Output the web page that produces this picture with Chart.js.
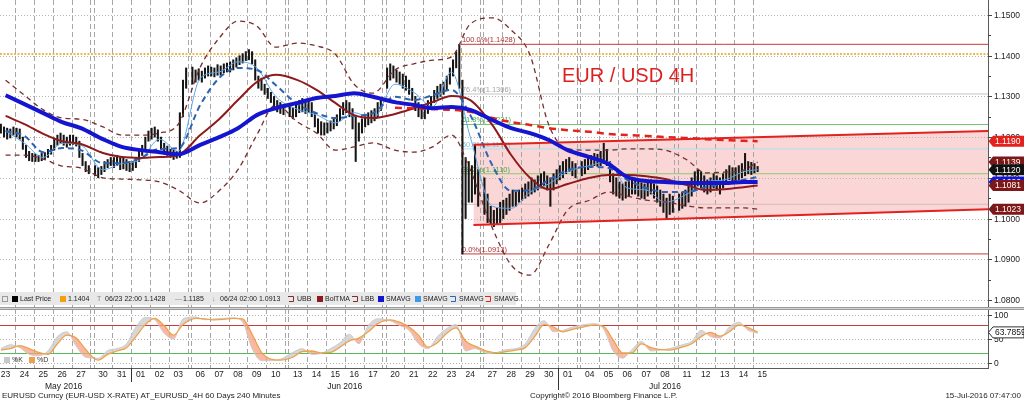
<!DOCTYPE html>
<html>
<head>
<meta charset="utf-8">
<title>EUR / USD 4H</title>
<script src="https://cdn.jsdelivr.net/npm/chart.js@4.4.1/dist/chart.umd.min.js"></script>
<style>
  html, body { margin: 0; padding: 0; background: #fff; }
  #wrap { position: relative; width: 1024px; height: 401px; overflow: hidden; }
  #wrap canvas { position: absolute; left: 0; }
  #priceChart { top: 0; }
  #stochChart { top: 307px; }
</style>
</head>
<body>
<div id="wrap">
  <canvas id="priceChart" width="1024" height="307"></canvas>
  <canvas id="stochChart" width="1024" height="94"></canvas>
</div>
<script>
const FONT = '"Liberation Sans", Arial, sans-serif';

// Trading days on the axis: 6 four-hour bars a day, plus one Sunday bar per weekend
const dayLabels = ['23','24','25','26','27','30','31','01','02','03','06','07','08','09','10','13','14','15','16','17',
                   '20','21','22','23','24','27','28','29','30','01','04','05','06','07','08','11','12','13','14','15'];
const monthLabels = ['May 2016', 'Jun 2016', 'Jul 2016'];
const monthFirstDay = [0, 7, 29];
const viewRange = [1.22, 315.87];          // visible span, in bar slots

// 4H bars, one row per day
const barHigh = [
  [1.1228,1.1232,1.1225,1.1222,1.1220,1.1225], [1.1222,1.1220,1.1200,1.1180,1.1165,1.1160],
  [1.1158,1.1155,1.1160,1.1162,1.1170,1.1180], [1.1195,1.1205,1.1210,1.1205,1.1200,1.1205],
  [1.1205,1.1200,1.1190,1.1160,1.1140,1.1130], [1.1130,1.1125,1.1128,1.1140,1.1145,1.1150],
  [1.1150,1.1155,1.1150,1.1148,1.1145,1.1140], [1.1140,1.1150,1.1165,1.1180,1.1200,1.1215],
  [1.1222,1.1225,1.1218,1.1200,1.1185,1.1178], [1.1170,1.1168,1.1165,1.1260,1.1340,1.1370],
  [1.1372,1.1365,1.1368,1.1362,1.1370,1.1375], [1.1372,1.1370,1.1378,1.1375,1.1380,1.1382],
  [1.1385,1.1390,1.1395,1.1400,1.1405,1.1410], [1.1415,1.1410,1.1390,1.1350,1.1345,1.1330],
  [1.1320,1.1310,1.1300,1.1290,1.1285,1.1280], [1.1278,1.1272,1.1280,1.1290,1.1295,1.1290],
  [1.1292,1.1285,1.1260,1.1245,1.1238,1.1235], [1.1235,1.1240,1.1245,1.1255,1.1270,1.1285],
  [1.1290,1.1285,1.1270,1.1250,1.1235,1.1245], [1.1255,1.1260,1.1265,1.1270,1.1285,1.1295],
  [1.1370,1.1380,1.1375,1.1365,1.1360,1.1355], [1.1350,1.1340,1.1320,1.1300,1.1285,1.1280],
  [1.1275,1.1290,1.1300,1.1315,1.1325,1.1330], [1.1335,1.1350,1.1370,1.1390,1.1410,1.1428],
  [1.1340,1.1150,1.1140,1.1130,1.1181,1.1120], [1.1100,1.1060,1.1030,1.1020,1.1025,1.1040],
  [1.1045,1.1050,1.1060,1.1070,1.1065,1.1070], [1.1075,1.1085,1.1090,1.1100,1.1095,1.1105],
  [1.1110,1.1115,1.1105,1.1100,1.1110,1.1120], [1.1130,1.1140,1.1145,1.1150,1.1140,1.1135],
  [1.1140,1.1145,1.1150,1.1155,1.1160,1.1158], [1.1165,1.1185,1.1170,1.1140,1.1110,1.1100],
  [1.1090,1.1085,1.1090,1.1095,1.1100,1.1095], [1.1092,1.1088,1.1085,1.1090,1.1095,1.1085],
  [1.1080,1.1070,1.1060,1.1050,1.1060,1.1055], [1.1060,1.1065,1.1070,1.1085,1.1100,1.1115],
  [1.1120,1.1115,1.1105,1.1095,1.1100,1.1110], [1.1105,1.1100,1.1110,1.1120,1.1130,1.1125],
  [1.1125,1.1130,1.1135,1.1160,1.1140,1.1138], [1.1135,1.1128]
];
const barLow = [
  [1.1205,1.1210,1.1200,1.1195,1.1198,1.1205], [1.1200,1.1195,1.1170,1.1150,1.1142,1.1140],
  [1.1140,1.1140,1.1142,1.1145,1.1150,1.1158], [1.1168,1.1180,1.1185,1.1180,1.1175,1.1180],
  [1.1182,1.1178,1.1150,1.1130,1.1115,1.1110], [1.1105,1.1100,1.1108,1.1115,1.1125,1.1130],
  [1.1125,1.1130,1.1120,1.1122,1.1118,1.1115], [1.1118,1.1125,1.1140,1.1155,1.1170,1.1190],
  [1.1195,1.1200,1.1190,1.1170,1.1158,1.1155], [1.1150,1.1145,1.1148,1.1150,1.1250,1.1320],
  [1.1330,1.1335,1.1340,1.1335,1.1345,1.1350], [1.1350,1.1348,1.1352,1.1352,1.1358,1.1360],
  [1.1360,1.1365,1.1372,1.1378,1.1382,1.1388], [1.1390,1.1380,1.1340,1.1320,1.1315,1.1305],
  [1.1295,1.1285,1.1275,1.1262,1.1258,1.1255], [1.1250,1.1245,1.1250,1.1260,1.1262,1.1258],
  [1.1260,1.1250,1.1225,1.1210,1.1205,1.1205], [1.1210,1.1215,1.1220,1.1228,1.1240,1.1255],
  [1.1260,1.1250,1.1220,1.1140,1.1190,1.1210], [1.1225,1.1230,1.1235,1.1240,1.1250,1.1265],
  [1.1320,1.1340,1.1345,1.1335,1.1330,1.1320], [1.1315,1.1305,1.1290,1.1265,1.1250,1.1245],
  [1.1245,1.1258,1.1270,1.1285,1.1295,1.1300], [1.1305,1.1315,1.1330,1.1350,1.1370,1.1320],
  [1.0913,1.1000,1.1040,1.1040,1.1060,1.1030], [1.1010,1.0990,1.0985,1.0980,1.0985,1.0990],
  [1.1000,1.1010,1.1020,1.1030,1.1030,1.1040], [1.1045,1.1050,1.1055,1.1060,1.1065,1.1070],
  [1.1075,1.1080,1.1070,1.1030,1.1070,1.1085], [1.1095,1.1100,1.1110,1.1115,1.1105,1.1100],
  [1.1105,1.1110,1.1120,1.1125,1.1130,1.1128], [1.1130,1.1135,1.1130,1.1090,1.1060,1.1055],
  [1.1050,1.1045,1.1050,1.1055,1.1060,1.1060], [1.1055,1.1050,1.1048,1.1055,1.1060,1.1050],
  [1.1040,1.1030,1.1015,1.1000,1.1010,1.1015], [1.1020,1.1025,1.1030,1.1040,1.1055,1.1070],
  [1.1080,1.1075,1.1065,1.1060,1.1065,1.1075], [1.1070,1.1060,1.1075,1.1085,1.1095,1.1090],
  [1.1090,1.1095,1.1100,1.1105,1.1110,1.1108], [1.1112,1.1115]
];
const lastPrice = 1.1120;

// studies, one value per day
const smaBlue = [1.1303,1.1281,1.1259,1.1237,1.1222,1.1195,1.1176,1.1168,1.1163,1.1158,
                 1.1181,1.1200,1.1222,1.1254,1.1271,1.1284,1.1296,1.1301,1.1308,1.1299,
                 1.1286,1.1279,1.1271,1.1274,1.1267,1.1242,1.1222,1.1210,1.1193,1.1168,
                 1.1151,1.1134,1.1102,1.1092,1.1090,1.1087,1.1087,1.1087,1.1090,1.1090];
const bollMid = [1.1252,1.1232,1.1208,1.1190,1.1183,1.1161,1.1151,1.1149,1.1151,1.1156,
                 1.1205,1.1244,1.1291,1.1335,1.1353,1.1340,1.1316,1.1284,1.1254,1.1247,
                 1.1257,1.1271,1.1286,1.1301,1.1291,1.1230,1.1156,1.1100,1.1072,1.1085,
                 1.1100,1.1107,1.1107,1.1104,1.1097,1.1082,1.1070,1.1072,1.1077,1.1081];
const bollUp = [1.1340,1.1303,1.1267,1.1247,1.1244,1.1225,1.1205,1.1205,1.1210,1.1232,
                1.1372,1.1443,1.1485,1.1473,1.1421,1.1431,1.1424,1.1404,1.1330,1.1308,
                1.1365,1.1380,1.1389,1.1397,1.1478,1.1493,1.1463,1.1402,1.1230,1.1171,
                1.1168,1.1168,1.1171,1.1171,1.1168,1.1144,1.1112,1.1114,1.1119,1.1139];
const bollLow = [1.1156,1.1156,1.1146,1.1129,1.1124,1.1100,1.1097,1.1095,1.1090,1.1070,
                 1.1038,1.1068,1.1120,1.1205,1.1279,1.1237,1.1210,1.1168,1.1176,1.1186,
                 1.1168,1.1163,1.1176,1.1205,1.1119,1.0977,1.0886,1.0861,1.0935,1.1021,
                 1.1045,1.1065,1.1055,1.1045,1.1041,1.1031,1.1026,1.1026,1.1026,1.1023];
const smaBlueDash = [1.1215,1.1203,1.1163,1.1173,1.1168,1.1136,1.1136,1.1149,1.1171,1.1173,
                     1.1279,1.1345,1.1370,1.1365,1.1328,1.1281,1.1259,1.1247,1.1252,1.1259,
                     1.1299,1.1291,1.1303,1.1316,1.1254,1.1131,1.1068,1.1070,1.1095,1.1119,
                     1.1127,1.1124,1.1095,1.1075,1.1065,1.1065,1.1077,1.1087,1.1095,1.1102];
const smaLight = [1.1215,1.1185,1.1150,1.1185,1.1180,1.1120,1.1135,1.1145,1.1195,1.1165,
                  1.1345,1.1360,1.1385,1.1370,1.1300,1.1268,1.1255,1.1235,1.1260,1.1245,
                  1.1330,1.1310,1.1275,1.1360,1.1200,1.1030,1.1025,1.1065,1.1085,1.1115,
                  1.1130,1.1140,1.1075,1.1070,1.1040,1.1060,1.1090,1.1095,1.1115,1.1120];
const redDashFirstDay = 20;
const smaRedDash = [1.1272,1.1271,1.1269,1.1267,1.1262,1.1247,1.1237,1.1230,1.1222,1.1217,
                    1.1213,1.1208,1.1205,1.1203,1.1200,1.1198,1.1195,1.1193,1.1191,1.1190];

// drawn objects
const fibStartDay = 24;
const fibLevels = [1.1428, 1.1306, 1.1231, 1.1171, 1.1110, 1.1035, 1.0913];
const fibLabels = ['100.0%(1.1428)', '76.4%(1.1306)', '61.8%(1.1231)', '50.0%(1.1171)', '38.2%(1.1110)', '', '0.0%(1.0913)'];
const channelStartBar = 4;
const channelUpper = [1.1181, 1.1215];
const channelLower = [1.0984, 1.1023];
const hiLine = 1.1404;
const priceTicks = [1.08, 1.09, 1.10, 1.11, 1.12, 1.13, 1.14, 1.15];
const priceRange = [1.07826, 1.15369];

// stochastics, two readings per day
const stochD = [27,30,36,30,22,18,40,58,52,28,6,18,25,32,55,80,93,78,58,80,93,92,90,91,93,92,60,22,8,6,
                12,24,25,21,22,33,46,52,65,82,90,85,75,58,33,42,62,73,46,35,24,21,24,27,32,55,80,75,65,70,
                76,79,76,48,21,21,40,32,28,27,33,40,55,64,56,65,79,74,63.8];
const stochK = [30,38,32,18,15,25,55,65,35,12,10,26,30,40,75,95,90,62,50,92,96,90,92,93,94,85,30,5,5,8,
                22,30,18,20,30,42,60,40,78,92,88,78,68,40,30,55,72,80,25,30,20,22,28,30,40,72,88,65,68,75,
                80,82,70,25,10,28,45,25,27,30,38,45,68,55,52,75,85,68,62];
const stochLastValue = 63.7859;
const stochTicks = [0, 50, 100];
const stochLevels = [80, 20];
const stochRange = [-10.4, 112.5];

const legendEntries = [
  ['box', '#000000', 'Last Price'], ['box', '#f0a010', '1.1404'], ['T', '#8a8a8a', '06/23 22:00 1.1428'],
  ['\u2014', '#8a8a8a', '1.1185'], ['\u2193', '#8a8a8a', '06/24 02:00 1.0913'], ['icon', '#7a2d2d', 'UBB'],
  ['box', '#8e1b1b', 'BolTMA'], ['icon', '#7a2d2d', 'LBB'], ['box', '#1515d0', 'SMAVG'],
  ['box', '#3c9be8', 'SMAVG'], ['icon', '#2c63b5', 'SMAVG'], ['icon', '#e3211d', 'SMAVG']
];
const legendX = [12, 60, 97, 175, 212, 288, 317, 352, 378, 415, 450, 485];

// ---- helpers ----
const dayStart = k => k * 6 + Math.floor(k / 5);
const dayMid = k => k < dayLabels.length - 1 ? dayStart(k) + 3 : dayStart(k) + 1.5;
const daily = (vals, first = 0) => vals.map((v, i) => ({ x: dayMid(first + i), y: v }));
const stochX = i => dayStart(Math.floor(i / 2)) + (i % 2 ? 4.5 : 1.5);
const snap = v => Math.round(v) + 0.5;

function dayLineSlots() {
  const s = [];
  for (let k = 1; k < dayLabels.length; k++) {
    s.push(dayStart(k));
    if (k % 5 === 0) s.push(dayStart(k) - 1);   // Friday close before the weekend bar
  }
  return s;
}

function hline(ctx, x0, x1, y) { ctx.beginPath(); ctx.moveTo(x0, y); ctx.lineTo(x1, y); ctx.stroke(); }
function vline(ctx, x, y0, y1) { ctx.beginPath(); ctx.moveTo(x, y0); ctx.lineTo(x, y1); ctx.stroke(); }

function valueTag(ctx, x0, yc, text, bg, fg, stroke) {
  const h = 11;
  ctx.beginPath();
  ctx.moveTo(x0 + 0.5, yc);
  ctx.lineTo(x0 + 5, yc - h / 2);
  ctx.lineTo(1024, yc - h / 2);
  ctx.lineTo(1024, yc + h / 2);
  ctx.lineTo(x0 + 5, yc + h / 2);
  ctx.closePath();
  ctx.fillStyle = bg;
  ctx.fill();
  if (stroke) { ctx.strokeStyle = stroke; ctx.lineWidth = 1; ctx.stroke(); }
  ctx.fillStyle = fg;
  ctx.textAlign = 'left';
  ctx.textBaseline = 'middle';
  ctx.fillText(text, x0 + 7, yc + 0.5);
}

const lineSet = (data, color, width, dash, order) => ({
  type: 'line', data, borderColor: color, borderWidth: width, borderDash: dash,
  pointRadius: 0, fill: false, cubicInterpolationMode: 'monotone', order
});

// ---- price panel ----
const priceBars = [];
barHigh.forEach((row, k) => row.forEach((hi, j) => {
  priceBars.push({ x: dayStart(k) + j + 0.5, y: [barLow[k][j], hi] });
}));

const fibStart = dayStart(fibStartDay);
const channelStart = fibStart + channelStartBar;
const fibLineColors = ['#c83a3a', '#c4c4c4', '#72c672', '#b0e0ec', '#8acb6a', '#d4bcbc', '#c83a3a'];
const fibTextColors = ['#a83232', '#a6a6a6', '#4aa84a', '#7ec3dc', '#4aa84a', null, '#a83232'];

const priceTags = [
  { value: smaBlue[smaBlue.length - 1], bg: '#1515d0' },
  { value: bollUp[bollUp.length - 1], bg: '#7d1818' },
  { value: bollMid[bollMid.length - 1], bg: '#7d1818' },
  { value: lastPrice, bg: '#111111' },
  { value: smaRedDash[smaRedDash.length - 1], bg: '#e3211d' },
  { value: bollLow[bollLow.length - 1], bg: '#7d1818' }
];

const priceGrid = {
  id: 'priceGrid',
  beforeDatasetsDraw(chart) {
    const { ctx, chartArea: a, scales: { x, y } } = chart;
    ctx.save();
    ctx.lineWidth = 1;
    ctx.strokeStyle = '#b4b4b4';
    ctx.setLineDash([1, 2]);
    priceTicks.forEach(v => hline(ctx, a.left, a.right, snap(y.getPixelForValue(v))));
    ctx.setLineDash([5, 3]);
    ctx.strokeStyle = '#a6a6a6';
    dayLineSlots().forEach(s => vline(ctx, snap(x.getPixelForValue(s)), a.top, a.bottom));
    ctx.setLineDash([]);
    // fibonacci labels
    ctx.font = '7.5px ' + FONT;
    ctx.textAlign = 'left';
    ctx.textBaseline = 'bottom';
    fibLevels.forEach((lv, i) => {
      if (!fibLabels[i]) return;
      ctx.fillStyle = fibTextColors[i];
      ctx.fillText(fibLabels[i], x.getPixelForValue(fibStart) + 1, y.getPixelForValue(lv) - 0.5);
    });
    ctx.restore();
  }
};

const priceOverlay = {
  id: 'priceOverlay',
  afterDraw(chart) {
    const { ctx, chartArea: a, scales: { y } } = chart;
    ctx.save();
    // title
    ctx.font = '20px ' + FONT;
    ctx.fillStyle = '#dc1f1f';
    ctx.textAlign = 'left';
    ctx.textBaseline = 'alphabetic';
    ctx.fillText('EUR / USD 4H', 562, 82);

    // legend strip
    ctx.fillStyle = '#e8e8e8';
    ctx.fillRect(0, 292, 516, 13);
    ctx.strokeStyle = '#9a9a9a';
    ctx.lineWidth = 1;
    ctx.strokeRect(2.5, 296.5, 5, 5);
    ctx.font = '7px ' + FONT;
    ctx.textBaseline = 'middle';
    legendEntries.forEach(([kind, color, text], i) => {
      const lx = legendX[i];
      if (kind === 'box') {
        ctx.fillStyle = color;
        ctx.fillRect(lx, 296, 6, 6);
      } else if (kind === 'icon') {
        ctx.strokeStyle = color;
        ctx.beginPath();
        ctx.moveTo(lx, 296.5); ctx.lineTo(lx + 5.5, 296.5); ctx.lineTo(lx + 5.5, 301.5); ctx.lineTo(lx + 1, 301.5);
        ctx.stroke();
      } else {
        ctx.fillStyle = color;
        ctx.fillText(kind, lx, 299);
      }
      ctx.fillStyle = '#222';
      ctx.fillText(text, lx + (kind === 'icon' ? 9 : 8), 299);
    });

    // right axis
    ctx.strokeStyle = '#444';
    ctx.font = '8.5px ' + FONT;
    ctx.fillStyle = '#222';
    priceTicks.forEach((v, i) => {
      const py = snap(y.getPixelForValue(v));
      hline(ctx, a.right, a.right + 4, py);
      ctx.fillText(v.toFixed(4), a.right + 6, py);
      if (i < priceTicks.length - 1) {
        hline(ctx, a.right, a.right + 3, snap(y.getPixelForValue((v + priceTicks[i + 1]) / 2)));
      }
    });
    priceTags.forEach(t => valueTag(ctx, a.right, y.getPixelForValue(t.value), t.value.toFixed(4), t.bg, '#ffffff'));
    ctx.restore();
  }
};

new Chart(document.getElementById('priceChart'), {
  type: 'line',
  data: {
    datasets: [
      lineSet(daily(smaBlue), '#1515d0', 4, [], 0),
      { ...lineSet([{ x: channelStart, y: channelUpper[0] }, { x: viewRange[1], y: channelUpper[1] }], '#e3211d', 2, [], 1) },
      { ...lineSet([{ x: channelStart, y: channelLower[0] }, { x: viewRange[1], y: channelLower[1] }], '#e3211d', 2, [], 1),
        fill: '-1', backgroundColor: '#fbd6d6' },
      lineSet(daily(smaRedDash, redDashFirstDay), '#e3211d', 2.5, [7, 5], 2),
      lineSet(daily(bollMid), '#8e1b1b', 2, [], 3),
      lineSet(daily(bollUp), '#7a2d2d', 1.3, [5, 4], 4),
      lineSet(daily(bollLow), '#7a2d2d', 1.3, [5, 4], 4),
      lineSet(daily(smaBlueDash), '#2c63b5', 2, [6, 4], 5),
      lineSet(daily(smaLight), '#5aa8e8', 1, [], 6),
      { type: 'bar', data: priceBars, backgroundColor: '#151515', barThickness: 1.4, order: 7 },
      ...fibLevels.map((lv, i) => lineSet([{ x: fibStart, y: lv }, { x: viewRange[1], y: lv }], fibLineColors[i], 1, [], 8)),
      lineSet([{ x: viewRange[0], y: hiLine }, { x: viewRange[1], y: hiLine }], '#e8a317', 1.5, [2, 1.5], 9)
    ]
  },
  options: {
    responsive: false,
    animation: false,
    devicePixelRatio: 1,
    events: [],
    layout: { padding: 0 },
    plugins: {
      legend: { display: false },
      tooltip: { enabled: false },
      filler: { drawTime: 'beforeDatasetsDraw' }
    },
    scales: {
      x: { type: 'linear', display: false, offset: false, grid: { offset: false }, min: viewRange[0], max: viewRange[1] },
      y: {
        type: 'linear', position: 'right', min: priceRange[0], max: priceRange[1],
        ticks: { display: false }, grid: { display: false }, border: { color: '#5a5a5a' },
        afterFit: s => { s.width = 36; }
      }
    }
  },
  plugins: [priceGrid, priceOverlay]
});

// ---- stochastic panel ----
const stochGrid = {
  id: 'stochGrid',
  beforeDatasetsDraw(chart) {
    const { ctx, chartArea: a, scales: { x, y } } = chart;
    ctx.save();
    ctx.lineWidth = 1;
    ctx.strokeStyle = '#b0b0b0';
    ctx.setLineDash([1, 2]);
    stochTicks.forEach(v => hline(ctx, a.left, a.right, snap(y.getPixelForValue(v))));
    ctx.setLineDash([5, 3]);
    ctx.strokeStyle = '#a6a6a6';
    dayLineSlots().forEach(s => vline(ctx, snap(x.getPixelForValue(s)), a.top, a.bottom));
    ctx.setLineDash([]);
    ctx.strokeStyle = '#c63c3c';
    hline(ctx, a.left, a.right, snap(y.getPixelForValue(stochLevels[0])));
    ctx.strokeStyle = '#55bb55';
    hline(ctx, a.left, a.right, snap(y.getPixelForValue(stochLevels[1])));
    ctx.restore();
  }
};

const stochOverlay = {
  id: 'stochOverlay',
  afterDraw(chart) {
    const { ctx, chartArea: a, scales: { x, y } } = chart;
    ctx.save();
    // separator between the panels
    ctx.fillStyle = '#9a9a9a';
    ctx.fillRect(0, 0, 1024, 1);
    ctx.fillRect(0, 2, 1024, 1);
    ctx.fillStyle = '#d4d4d4';
    ctx.fillRect(0, 1, 1024, 1);

    // right axis
    ctx.strokeStyle = '#444';
    ctx.lineWidth = 1;
    ctx.font = '8.5px ' + FONT;
    ctx.textAlign = 'left';
    ctx.textBaseline = 'middle';
    ctx.fillStyle = '#222';
    stochTicks.forEach(v => {
      const py = snap(y.getPixelForValue(v));
      hline(ctx, a.right, a.right + 4, py);
      ctx.fillText(String(v), a.right + 6, py);
    });
    valueTag(ctx, a.right, y.getPixelForValue(stochLastValue), stochLastValue.toFixed(4), '#ffffff', '#111', '#333');

    // legend
    ctx.font = '7px ' + FONT;
    ctx.fillStyle = '#c8c8c8';
    ctx.fillRect(4, 50, 6, 6);
    ctx.fillStyle = '#f0a04a';
    ctx.fillRect(29, 50, 6, 6);
    ctx.fillStyle = '#333';
    ctx.fillText('%K', 12, 53);
    ctx.fillText('%D', 37, 53);

    // day labels
    ctx.font = '8.5px ' + FONT;
    ctx.textAlign = 'center';
    ctx.fillStyle = '#222';
    dayLabels.forEach((lab, k) => ctx.fillText(lab, x.getPixelForValue(dayStart(k) + 3), 68));

    // months
    monthLabels.forEach((m, i) => {
      const x0 = x.getPixelForValue(dayStart(monthFirstDay[i]));
      const lastDay = i < monthLabels.length - 1 ? monthFirstDay[i + 1] : dayLabels.length;
      const x1 = x.getPixelForValue(dayStart(lastDay - 1) + 6);
      ctx.fillText(m, (x0 + x1) / 2, 80);
      if (i > 0) {
        ctx.strokeStyle = '#333';
        vline(ctx, snap(x0), a.bottom, a.bottom + (i === 1 ? 14 : 22));
      }
    });

    // footer
    ctx.font = '8px ' + FONT;
    ctx.textAlign = 'left';
    ctx.fillText('EURUSD Curncy (EUR-USD X-RATE) AT_EURUSD_4H 60 Days 240 Minutes', 2, 89);
    ctx.fillText('Copyright\u00A9 2016 Bloomberg Finance L.P.', 530, 89);
    ctx.textAlign = 'right';
    ctx.fillText('15-Jul-2016 07:47:00', 1021, 89);
    ctx.restore();
  }
};

new Chart(document.getElementById('stochChart'), {
  type: 'line',
  data: {
    datasets: [
      lineSet(stochD.map((v, i) => ({ x: stochX(i), y: v })), '#f0a04a', 1.3, [], 0),
      { ...lineSet(stochK.map((v, i) => ({ x: stochX(i), y: v })), '#cccccc', 1, [], 1),
        fill: { target: '-1', above: 'rgba(205,205,205,0.8)', below: 'rgba(246,160,130,0.75)' } }
    ]
  },
  options: {
    responsive: false,
    animation: false,
    devicePixelRatio: 1,
    events: [],
    layout: { padding: { top: 2 } },
    plugins: { legend: { display: false }, tooltip: { enabled: false } },
    scales: {
      x: {
        type: 'linear', min: viewRange[0], max: viewRange[1],
        ticks: { display: false }, grid: { display: false }, border: { color: '#5a5a5a' },
        afterFit: s => { s.height = 33; }
      },
      y: {
        type: 'linear', position: 'right', min: stochRange[0], max: stochRange[1],
        ticks: { display: false }, grid: { display: false }, border: { color: '#5a5a5a' },
        afterFit: s => { s.width = 36; }
      }
    }
  },
  plugins: [stochGrid, stochOverlay]
});
</script>
</body>
</html>
